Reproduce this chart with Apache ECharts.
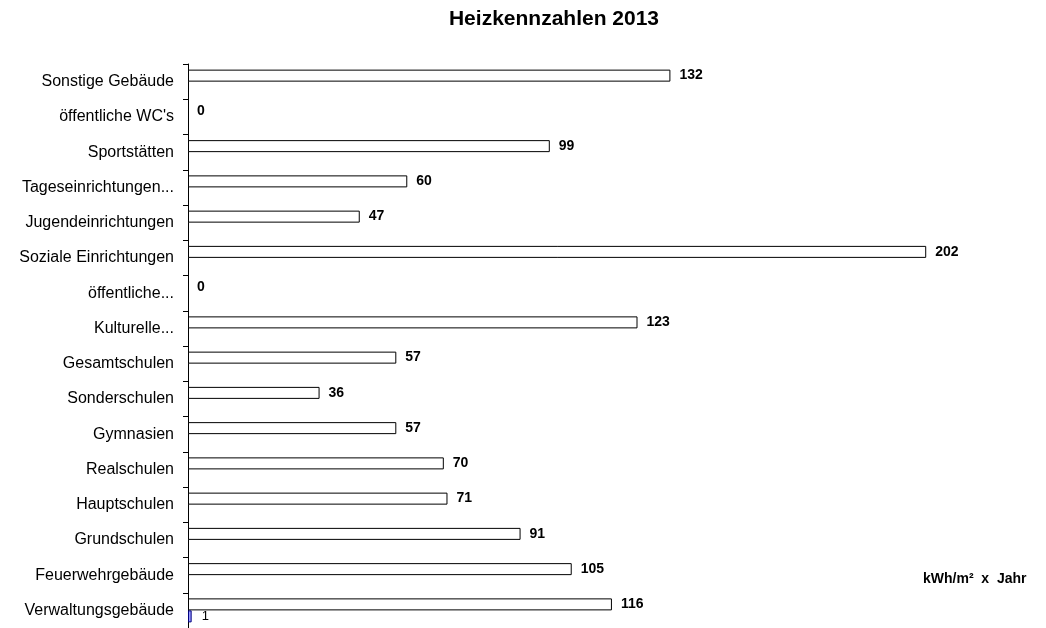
<!DOCTYPE html>
<html>
<head>
<meta charset="utf-8">
<script src="https://cdn.jsdelivr.net/npm/echarts@6/dist/echarts.min.js"></script>
<style>
  html, body { margin: 0; padding: 0; background: #fff; }
  #chart { width: 1046px; height: 628px; }
</style>
</head>
<body>
<div id="chart"></div>
<script>
// top to bottom as in the picture
const categories = [
    'Sonstige Gebäude', "öffentliche WC's", 'Sportstätten', 'Tageseinrichtungen...',
    'Jugendeinrichtungen', 'Soziale Einrichtungen', 'öffentliche...', 'Kulturelle...',
    'Gesamtschulen', 'Sonderschulen', 'Gymnasien', 'Realschulen',
    'Hauptschulen', 'Grundschulen', 'Feuerwehrgebäude', 'Verwaltungsgebäude'
];
const heizkennzahl = [132, 0, 99, 60, 47, 202, 0, 123, 57, 36, 57, 70, 71, 91, 105, 116];
const zweiteReihe = [null, null, null, null, null, null, null, null, null, null, null, null, null, null, null, 1];

const font = 'Liberation Sans, Arial, Helvetica, sans-serif';

// zero bars have no visible outline in the original
const heizData = heizkennzahl.map(v => v === 0 ? { value: v, itemStyle: { borderWidth: 0 } } : v);

const chart = echarts.init(document.getElementById('chart'));
const option = {
    animation: false,
    backgroundColor: '#fff',
    title: {
        text: 'Heizkennzahlen 2013',
        left: 554,
        textAlign: 'center',
        top: 9,
        padding: [0, 0, 0, 0],
        textStyle: { fontFamily: font, fontSize: 21, fontWeight: 'bold', color: '#000' }
    },
    graphic: [{
        type: 'text',
        left: 923,
        top: 572,
        style: { text: 'kWh/m²  x  Jahr', font: 'bold 14px ' + font, fill: '#000' }
    }],
    grid: { left: 188, top: 64, right: 54, bottom: -2 },
    xAxis: {
        type: 'value',
        min: 0,
        max: 220,
        show: false
    },
    yAxis: {
        type: 'category',
        inverse: true,
        data: categories,
        axisLine: { lineStyle: { color: '#000', width: 1 } },
        axisTick: { show: true, length: 5, lineStyle: { color: '#000', width: 1 } },
        axisLabel: { interval: 0, margin: 14, color: '#000', fontFamily: font, fontSize: 16 }
    },
    series: [
        {
            name: 'Heizkennzahl',
            type: 'bar',
            data: heizData,
            barWidth: 12,
            barGap: '0%',
            itemStyle: { color: '#fff', borderColor: '#000', borderWidth: 1 },
            label: {
                show: true, position: 'right', distance: 9,
                color: '#000', fontFamily: font, fontSize: 14, fontWeight: 'bold'
            }
        },
        {
            name: 'Reihe 2',
            type: 'bar',
            data: zweiteReihe,
            barWidth: 12,
            itemStyle: { color: '#9999ff', borderColor: '#000080', borderWidth: 1 },
            label: {
                show: true, position: 'right', distance: 10,
                color: '#000', fontFamily: font, fontSize: 13
            }
        }
    ]
};
chart.setOption(option);
</script>
</body>
</html>
